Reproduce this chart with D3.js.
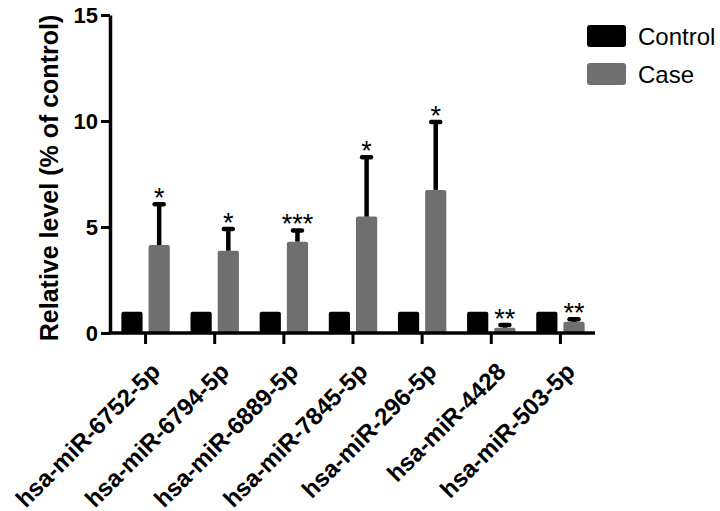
<!DOCTYPE html>
<html>
<head>
<meta charset="utf-8">
<script src="https://cdn.jsdelivr.net/npm/d3@7"></script>
<style>
  body { margin: 0; background: #fff; }
  svg { font-family: "Liberation Sans", Arial, sans-serif; }
</style>
</head>
<body>
<div id="chart"></div>
<script>
// DATA
var mirnas = ["hsa-miR-6752-5p", "hsa-miR-6794-5p", "hsa-miR-6889-5p", "hsa-miR-7845-5p",
              "hsa-miR-296-5p", "hsa-miR-4428", "hsa-miR-503-5p"];
var groups = ["Control", "Case"];
var controlValues = [1, 1, 1, 1, 1, 1, 1];
var caseValues = [4.15, 3.88, 4.31, 5.49, 6.75, 0.25, 0.53];
var caseErrors = [1.92, 1.02, 0.53, 2.80, 3.20, 0.13, 0.12];
var stars = ["*", "*", "***", "*", "*", "**", "**"];
var yTicks = [0, 5, 10, 15];

var w = 720;
var h = 511;
var colors = { Control: "#000000", Case: "#6f6f6f" };

var svg = d3.select("#chart").append("svg").attr("width", w).attr("height", h);

// SCALES
var xScale = d3.scaleBand()
  .domain(mirnas)
  .range([111, 595])
  .paddingInner(0.3)
  .paddingOuter(0.15);
var subScale = d3.scaleBand()
  .domain(groups)
  .range([0, xScale.bandwidth()])
  .paddingInner(0.22);
var yScale = d3.scaleLinear()
  .domain([0, 15])
  .range([333, 15]);

// BARS
var rows = mirnas.map(function (m, i) {
  return { name: m, Control: controlValues[i], Case: caseValues[i], err: caseErrors[i], star: stars[i] };
});

var group = svg.selectAll("g.group")
  .data(rows)
  .enter()
  .append("g")
  .attr("class", "group")
  .attr("transform", function (d) { return "translate(" + xScale(d.name) + ",0)"; });

group.selectAll("rect")
  .data(function (d) { return groups.map(function (g) { return { key: g, value: d[g] }; }); })
  .enter()
  .append("rect")
  .attr("x", function (d) { return subScale(d.key); })
  .attr("y", function (d) { return yScale(d.value); })
  .attr("width", subScale.bandwidth())
  .attr("height", function (d) { return yScale(0) - yScale(d.value); })
  .attr("rx", 2)
  .attr("fill", function (d) { return colors[d.key]; });

// error bars (upper only)
var cx = subScale("Case") + subScale.bandwidth() / 2;
group.append("line")
  .attr("x1", cx).attr("x2", cx)
  .attr("y1", function (d) { return yScale(d.Case); })
  .attr("y2", function (d) { return yScale(d.Case + d.err); })
  .attr("stroke", "#000")
  .attr("stroke-width", 4.5);
group.append("line")
  .attr("x1", cx - 4.5).attr("x2", cx + 4.5)
  .attr("y1", function (d) { return yScale(d.Case + d.err); })
  .attr("y2", function (d) { return yScale(d.Case + d.err); })
  .attr("stroke", "#000")
  .attr("stroke-width", 4.5)
  .attr("stroke-linecap", "round");

// significance stars
group.append("text")
  .attr("x", cx)
  .attr("y", function (d) { return yScale(d.Case + d.err) + 3; })
  .attr("text-anchor", "middle")
  .attr("font-size", "27px")
  .text(function (d) { return d.star; });

// AXES
var yAxis = d3.axisLeft(yScale).tickValues(yTicks).tickSize(9).tickSizeOuter(0).tickPadding(3);
var xAxis = d3.axisBottom(xScale).tickSize(11).tickSizeOuter(0);

var gy = svg.append("g")
  .attr("transform", "translate(110,0)")
  .call(yAxis);
gy.select(".domain").attr("stroke-width", 3.5);
gy.selectAll(".tick line").attr("stroke-width", 3);
gy.selectAll(".tick text")
  .attr("font-size", "22px")
  .attr("font-weight", "bold")
  .attr("font-family", "Liberation Sans, Arial, sans-serif")
  .attr("fill", "#000");

var gx = svg.append("g")
  .attr("transform", "translate(0,333)")
  .call(xAxis);
gx.select(".domain").attr("d", "M108.5,0H595").attr("stroke-width", 3.5);
gx.selectAll(".tick line").attr("stroke-width", 3);
gx.selectAll(".tick text")
  .attr("font-size", "24px")
  .attr("font-weight", "bold")
  .attr("font-family", "Liberation Sans, Arial, sans-serif")
  .attr("fill", "#000")
  .attr("text-anchor", "end")
  .attr("x", 0)
  .attr("y", 0)
  .attr("dy", 0)
  .attr("transform", "translate(16,40) rotate(-45)");

// y-axis label
svg.append("text")
  .attr("transform", "translate(58,178) rotate(-90)")
  .attr("text-anchor", "middle")
  .attr("font-size", "25px")
  .attr("font-weight", "bold")
  .text("Relative level (% of control)");

// LEGEND
var legend = svg.selectAll("g.legend")
  .data(groups)
  .enter()
  .append("g")
  .attr("class", "legend")
  .attr("transform", function (d, i) { return "translate(587," + (25 + i * 38) + ")"; });
legend.append("rect")
  .attr("width", 39)
  .attr("height", 22)
  .attr("rx", 3)
  .attr("fill", function (d) { return colors[d]; });
legend.append("text")
  .attr("x", 51)
  .attr("y", 20)
  .attr("font-size", "24px")
  .text(function (d) { return d; });
</script>
</body>
</html>
